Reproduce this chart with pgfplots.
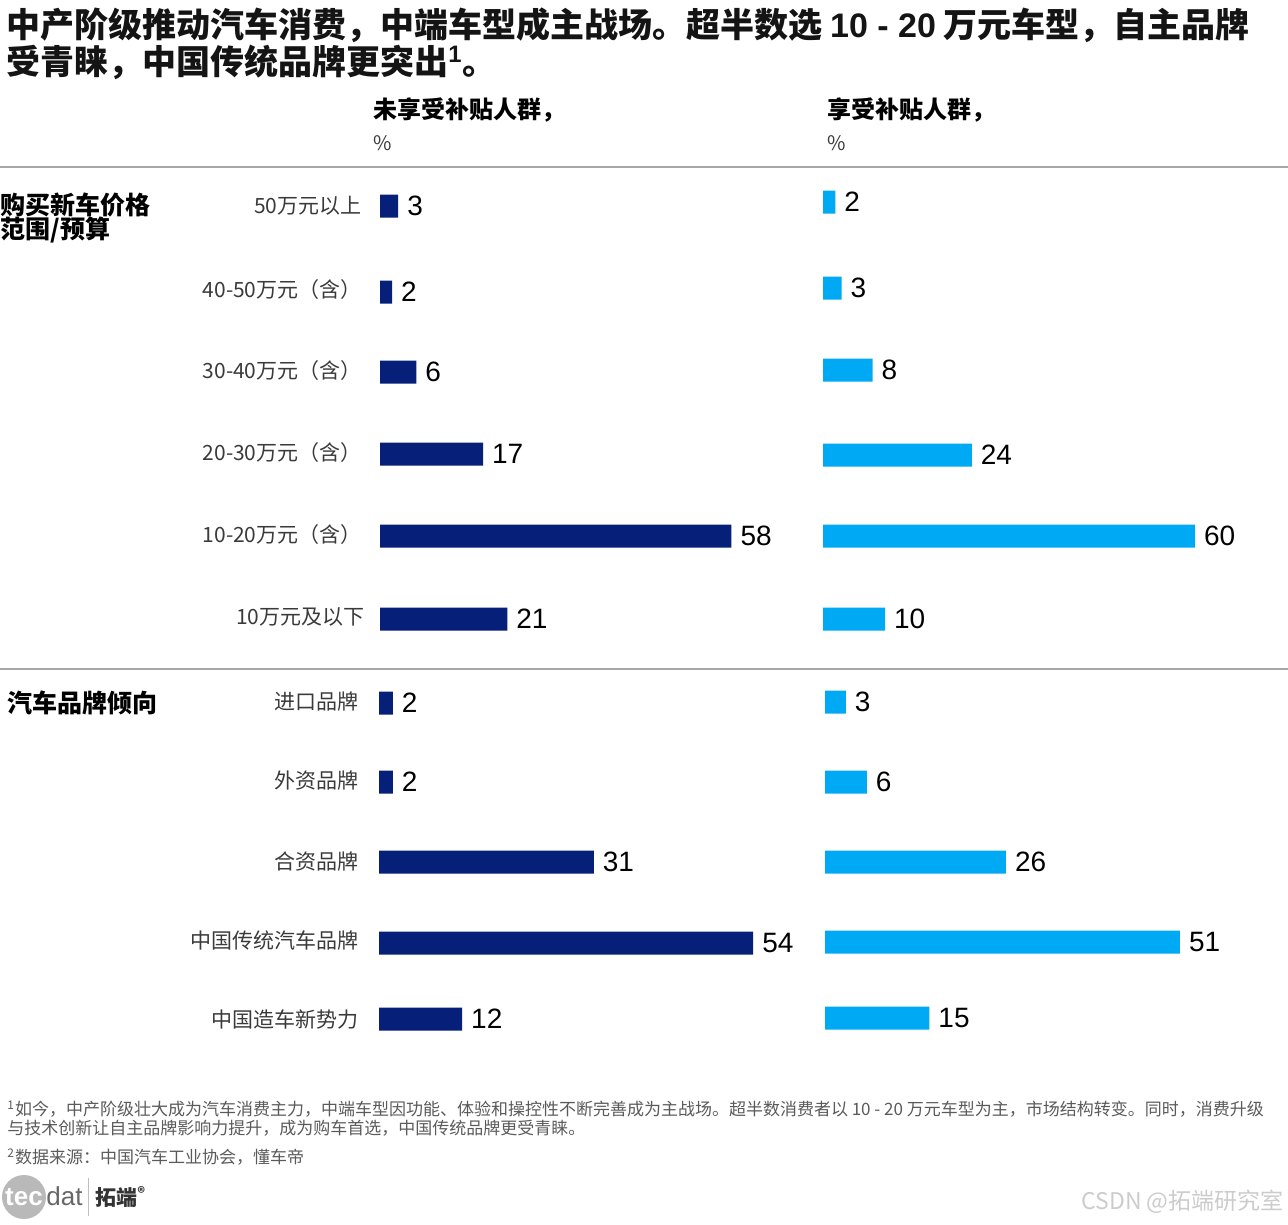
\documentclass[border=0pt]{standalone}
\usepackage{fontspec}
\setmainfont{Liberation Sans}
\newfontfamily\cjk{Noto Sans CJK SC}
\usepackage{pgfplots}
\pgfplotsset{compat=1.18}

\definecolor{navy}{HTML}{061F78}
\definecolor{sky}{HTML}{00A9F4}
\definecolor{labgray}{HTML}{3A3A3A}
\definecolor{notegray}{HTML}{5A5A5A}

% one panel = one column of one section; y is in pixels of the page
\pgfplotsset{panel/.style={
  hide axis, clip=false, xbar, bar width=11.5pt,
  enlargelimits=false,
  y=0.5pt, y dir=reverse, ymin=0, ymax=1224, xmin=0,
  anchor=north west, point meta=x,
  /pgf/number format/assume math mode=true,
  nodes near coords={\pgfmathprintnumber{\pgfplotspointmeta}},
  every node near coord/.append style={font=\fontsize{14}{14}\selectfont,
    text=black, anchor=west, xshift=1pt},
}}

\begin{document}
\begin{tikzpicture}[x=0.5pt, y=-0.5pt]
\path[use as bounding box] (0,0) rectangle (1288,1224);

% title
\node[anchor=base west, inner sep=0, font=\cjk\bfseries\fontsize{17}{17}\selectfont, text=black!92]
  at (6,38) {中产阶级推动汽车消费，中端车型成主战场。超半数选 {\rmfamily\bfseries 10 - 20} 万元车型，自主品牌};
\node[anchor=base west, inner sep=0, font=\cjk\bfseries\fontsize{17}{17}\selectfont, text=black!92]
  at (6,75) {受青睐，中国传统品牌更突出\textsuperscript{\rmfamily 1}。};

% column headers
\node[anchor=west, inner sep=0, font=\cjk\bfseries\fontsize{12}{12}\selectfont] at (373,110) {未享受补贴人群，};
\node[anchor=west, inner sep=0, font=\cjk\fontsize{10}{10}\selectfont, text=labgray] at (373,143) {\%};
\node[anchor=west, inner sep=0, font=\cjk\bfseries\fontsize{12}{12}\selectfont] at (827,110) {享受补贴人群，};
\node[anchor=west, inner sep=0, font=\cjk\fontsize{10}{10}\selectfont, text=labgray] at (827,143) {\%};

% separators
\draw[gray!70, line width=0.7pt] (0,167) -- (1288,167);
\draw[gray!70, line width=0.7pt] (0,669) -- (1288,669);

% section labels
\node[anchor=west, inner sep=0, font=\cjk\bfseries\fontsize{12.5}{12.5}\selectfont] at (0,205) {购买新车价格};
\node[anchor=west, inner sep=0, font=\cjk\bfseries\fontsize{12.5}{12.5}\selectfont] at (0,230) {范围/预算};
\node[anchor=west, inner sep=0, font=\cjk\bfseries\fontsize{12.5}{12.5}\selectfont] at (7,703) {汽车品牌倾向};

% category labels
\begin{scope}[every node/.style={anchor=east, inner sep=0, text=labgray, font=\cjk\fontsize{10.5}{10.5}\selectfont}]
\node at (362,206) {50万元以上};
\node at (362,290) {40-50万元（含）};
\node at (362,371) {30-40万元（含）};
\node at (362,453) {20-30万元（含）};
\node at (362,535) {10-20万元（含）};
\node at (365,617) {10万元及以下};
\node at (359,702) {进口品牌};
\node at (359,781) {外资品牌};
\node at (359,861) {合资品牌};
\node at (359,940) {中国传统汽车品牌};
\node at (359,1019) {中国造车新势力};
\end{scope}

% price range, no subsidy
\begin{axis}[panel, at={(190pt,0pt)}, x=3.03pt, xmax=75]
\addplot[fill=navy, draw=none] coordinates {(3,206) (2,292) (6,372) (17,454) (58,536) (21,619)};
\end{axis}
% price range, subsidy
\begin{axis}[panel, at={(411.5pt,0pt)}, x=3.1pt, xmax=70]
\addplot[fill=sky, draw=none] coordinates {(2,202) (3,288) (8,370) (24,455) (60,536) (10,619)};
\end{axis}
% brand, no subsidy
\begin{axis}[panel, at={(189.5pt,0pt)}, x=3.465pt, xmax=60]
\addplot[fill=navy, draw=none] coordinates {(2,703) (2,782) (31,862) (54,943) (12,1019)};
\end{axis}
% brand, subsidy
\begin{axis}[panel, at={(412.5pt,0pt)}, x=3.48pt, xmax=60]
\addplot[fill=sky, draw=none] coordinates {(3,702) (6,782) (26,862) (51,942) (15,1018)};
\end{axis}

% footnotes
\begin{scope}[every node/.style={anchor=base west, inner sep=0, text=notegray, font=\cjk\fontsize{8.5}{8.5}\selectfont}]
\node at (7,1115) {\textsuperscript{1}如今，中产阶级壮大成为汽车消费主力，中端车型因功能、体验和操控性不断完善成为主战场。超半数消费者以 10 - 20 万元车型为主，市场结构转变。同时，消费升级};
\node at (7,1134) {与技术创新让自主品牌影响力提升，成为购车首选，中国传统品牌更受青睐。};
\node at (7,1163) {\textsuperscript{2}数据来源：中国汽车工业协会，懂车帝};
\end{scope}

% logo and watermark
\fill[gray!55] (24,1197) circle (22);
\node[text=white, font=\bfseries\fontsize{13}{13}\selectfont, inner sep=0] at (24,1197) {tec};
\node[anchor=west, text=gray!80!black, font=\fontsize{13}{13}\selectfont, inner sep=0] at (46,1196) {dat};
\draw[gray!50, line width=0.5pt] (88,1178) -- (88,1216);
\node[anchor=west, inner sep=0, font=\cjk\bfseries\fontsize{10.5}{10.5}\selectfont, text=black!80] at (95,1197) {拓端\textsuperscript{®}};
\node[anchor=east, inner sep=0, text=gray!40, font=\cjk\fontsize{11.5}{11.5}\selectfont] at (1284,1202) {CSDN @拓端研究室};
\end{tikzpicture}
\end{document}
